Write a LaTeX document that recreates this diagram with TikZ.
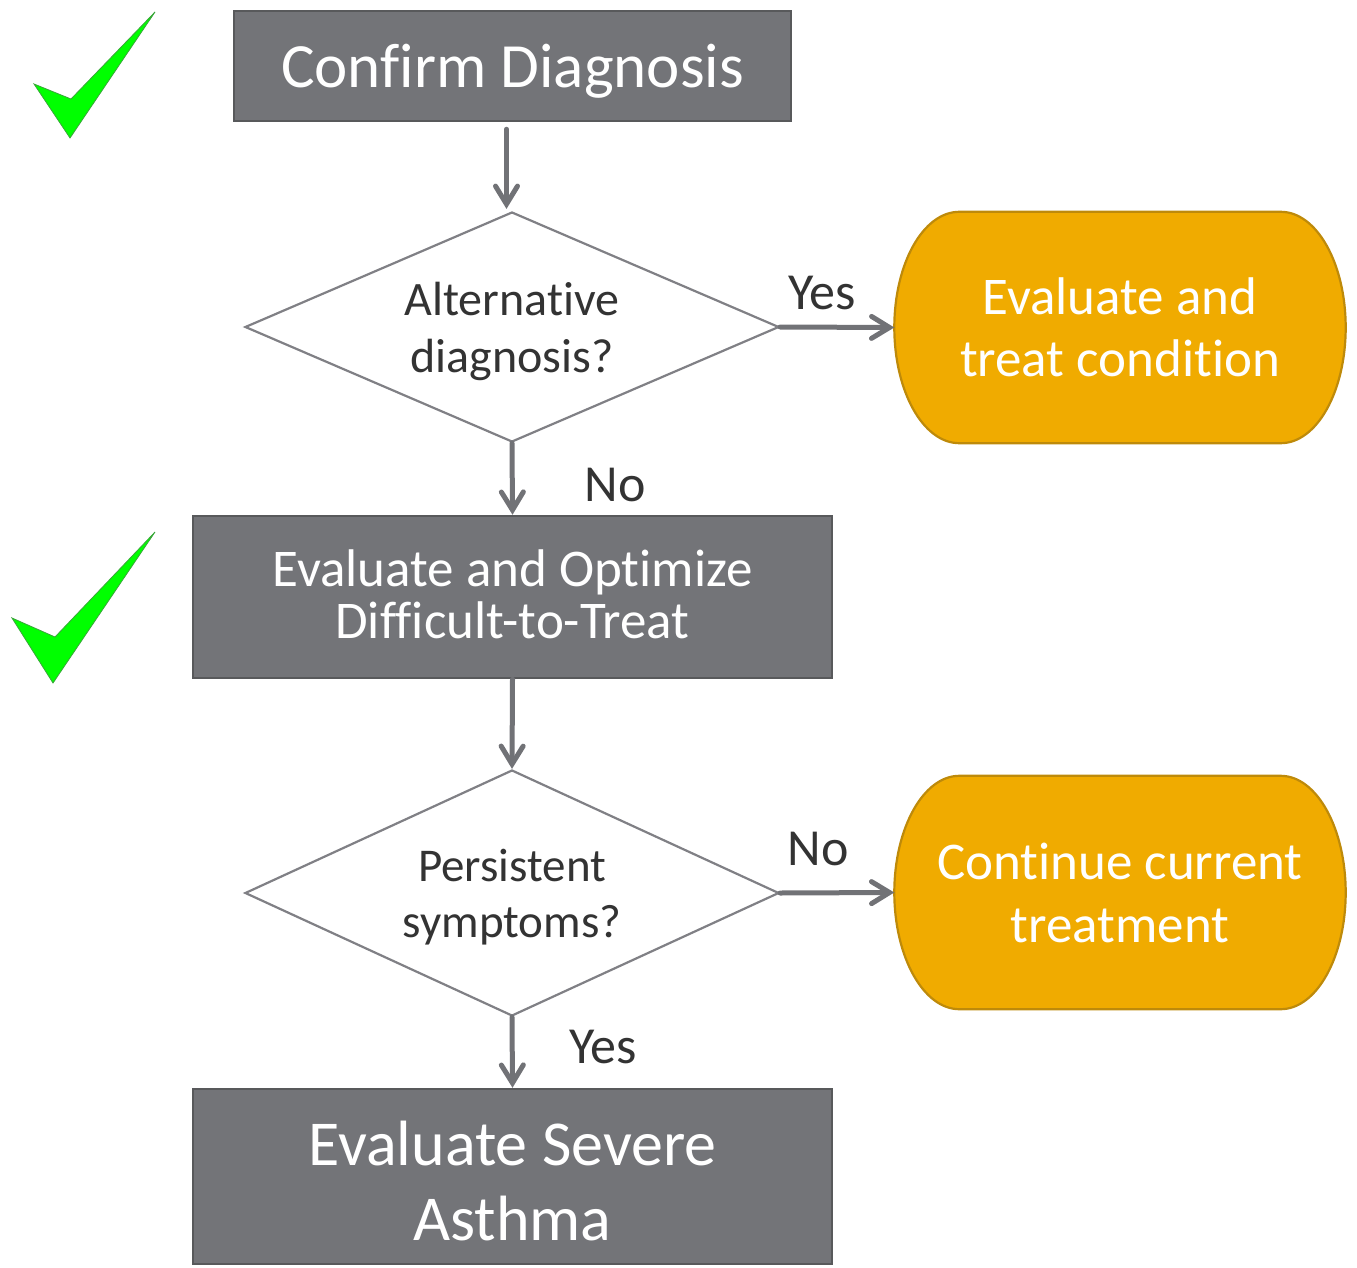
\documentclass[tikz,border=0pt]{standalone}
\usepackage{fontspec}
\setmainfont{Carlito}[Ligatures={NoCommon,NoContextual}]
\usetikzlibrary{shapes.geometric,arrows.meta}
\definecolor{boxgray}{HTML}{737478}
\definecolor{boxedge}{HTML}{58595B}
\definecolor{arrgray}{HTML}{717276}
\definecolor{diaedge}{HTML}{808085}
\definecolor{orangefill}{HTML}{F0AB00}
\definecolor{orangeedge}{HTML}{BE8A0A}
\definecolor{labtext}{HTML}{333333}
\definecolor{checkfill}{HTML}{00FF00}
\definecolor{checkedge}{HTML}{3AA53A}
\newcommand{\fs}[2]{\fontsize{#1}{#2}\selectfont}
\newcommand{\pillshape}[1]{%
  \draw[pillstyle] ([xshift=65pt]#1.north west) -- ([xshift=-65pt]#1.north east)
    .. controls ([xshift=-29pt]#1.north east) and ([yshift=64pt]#1.east) .. (#1.east)
    .. controls ([yshift=-64pt]#1.east) and ([xshift=-29pt]#1.south east) .. ([xshift=-65pt]#1.south east)
    -- ([xshift=65pt]#1.south west)
    .. controls ([xshift=29pt]#1.south west) and ([yshift=-64pt]#1.west) .. (#1.west)
    .. controls ([yshift=64pt]#1.west) and ([xshift=29pt]#1.north west) .. ([xshift=65pt]#1.north west) -- cycle;}
\tikzset{
  graybox/.style={draw=boxedge, line width=2.5pt, fill=boxgray, inner sep=0pt},
  boxtext/.style={text=white, align=center, inner sep=0pt},
  decision/.style={diamond, draw=diaedge, line width=2.2pt, fill=white, inner sep=0pt, minimum width=534pt, minimum height=230pt},
  dtext/.style={text=black!80, align=center, inner sep=0pt},
  pillnode/.style={inner sep=0pt, minimum width=451pt},
  pillstyle/.style={draw=orangeedge, line width=2.2pt, fill=orangefill},
  arr/.style={draw=arrgray, line width=5pt, line cap=round, -{Straight Barb[length=18pt, width=22pt, line cap=round, line width=5pt]}},
  lab/.style={text=labtext, inner sep=0pt, font={\fs{52}{60}}},
  checkstyle/.style={fill=checkfill, draw=checkedge, line width=0.8pt, line join=miter}
}
\begin{document}
\begin{tikzpicture}[x=1pt, y=-1pt]
\useasboundingbox (0,0) rectangle (1357,1268);
% check marks
\draw[checkstyle] (34,84) -- (71,99) -- (155,12) -- (70,138) -- cycle;
\draw[checkstyle] (12,618) -- (55,637) -- (155,532) -- (53,683) -- cycle;
% shapes
\node[graybox, minimum width=557pt, minimum height=110pt] (c) at (512.5,66) {};
\node[boxtext, font={\fs{63}{72}}, yshift=-5pt] (ct) at (c) {Confirm Diagnosis};
\node[decision] (d1) at (512,327) {};
\node[dtext, font={\fs{48}{57}}, yshift=-4pt] (d1t) at (d1) {Alternative\\diagnosis?};
\node[pillnode, minimum height=231pt] (o1) at (1120,327.5) {};
\pillshape{o1}
\node[boxtext, font={\fs{53}{62}}] (o1t) at (o1) {Evaluate and\\treat condition};
\node[graybox, minimum width=639pt, minimum height=162pt] (e) at (512.5,597) {};
\node[boxtext, font={\fs{53}{52}}, yshift=3pt] (et) at (e) {Evaluate and Optimize\\Difficult-to-Treat};
\node[decision, minimum height=246pt] (d2) at (512,893) {};
\node[dtext, font={\fs{47}{56}}, yshift=-4pt] (d2t) at (d2) {Persistent\\symptoms?};
\node[pillnode, minimum height=233pt] (o2) at (1120,892.5) {};
\pillshape{o2}
\node[boxtext, font={\fs{53}{63}}] (o2t) at (o2) {Continue current\\treatment};
\node[graybox, minimum width=639pt, minimum height=175pt] (s) at (512.5,1176.5) {};
\node[boxtext, font={\fs{64}{75}}, yshift=-5pt] (st) at (s) {Evaluate Severe\\Asthma};
% labels
\node[lab] (l1) at (822,293) {Yes};
\node[lab] (l2) at (615,485) {No};
\node[lab] (l3) at (818,849) {No};
\node[lab] (l4) at (603,1047) {Yes};
% connectors
\draw[arr] ([xshift=-6pt,yshift=-7pt]c.south) -- ([xshift=-6pt,yshift=2pt]c.south |- d1.north);
\draw[arr] (d1.east) -- (o1.west);
\draw[arr] (d1.south) -- (e.north);
\draw[arr] (e.south) -- (d2.north);
\draw[arr] (d2.east) -- (o2.west);
\draw[arr] (d2.south) -- (s.north);
\end{tikzpicture}
\end{document}
